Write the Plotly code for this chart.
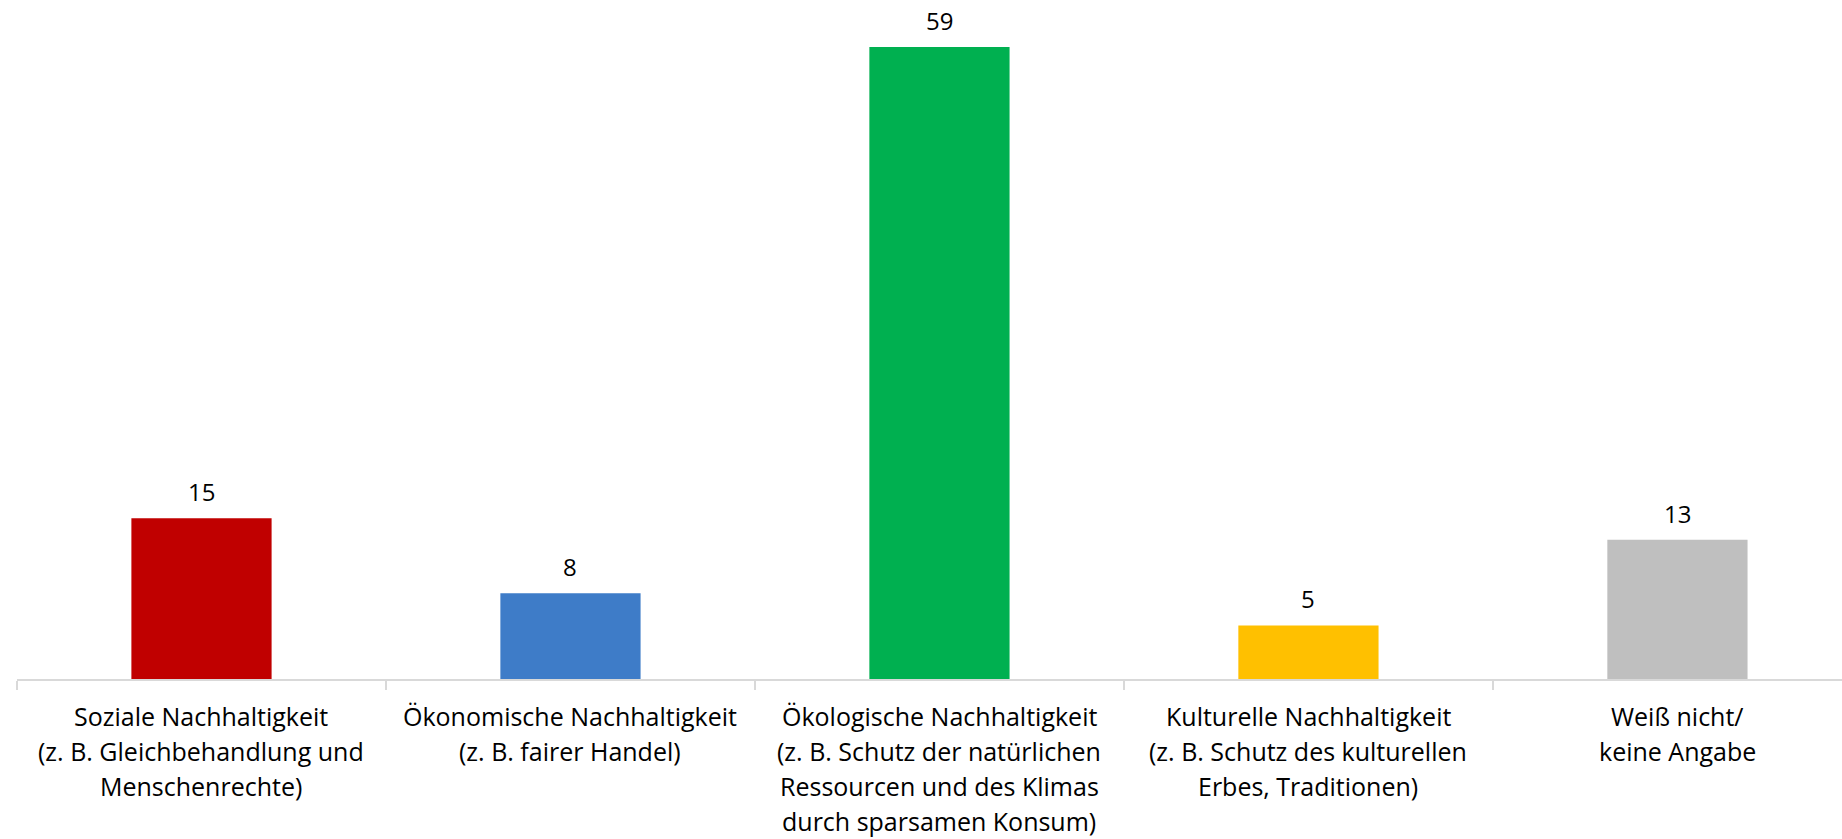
import plotly.graph_objects as go

# Kategorien und Werte
kategorien = [
    "Soziale Nachhaltigkeit<br>(z. B. Gleichbehandlung und<br>Menschenrechte)",
    "Ökonomische Nachhaltigkeit<br>(z. B. fairer Handel)",
    "Ökologische Nachhaltigkeit<br>(z. B. Schutz der natürlichen<br>Ressourcen und des Klimas<br>durch sparsamen Konsum)",
    "Kulturelle Nachhaltigkeit<br>(z. B. Schutz des kulturellen<br>Erbes, Traditionen)",
    "Weiß nicht/<br>keine Angabe",
]
werte = [15, 8, 59, 5, 13]
farben = ["#C00000", "#3E7CC8", "#00B050", "#FFC000", "#BFBFBF"]

fig = go.Figure(go.Bar(
    x=kategorien,
    y=werte,
    marker=dict(color=farben, line=dict(width=0)),
    hoverinfo="skip",
))

# Datenbeschriftungen ueber den Balken
for k, w in zip(kategorien, werte):
    fig.add_annotation(
        x=k, y=w, text=str(w), showarrow=False,
        yanchor="bottom", yshift=8,
        font=dict(family="Open Sans", size=24, color="#000000"),
    )

# Achsenbeschriftungen zeilenweise (groesserer Zeilenabstand als Plotly-Standard)
zeilenabstand = 35
for k in kategorien:
    for i, zeile in enumerate(k.split("<br>")):
        fig.add_annotation(
            x=k, y=0, text=zeile, showarrow=False,
            yanchor="top", xanchor="center",
            yshift=-(18 + i * zeilenabstand),
            font=dict(family="Open Sans", size=25, color="#000000"),
        )

fig.update_layout(
    width=1842, height=839,
    margin=dict(l=17, r=0, t=0, b=160, autoexpand=False),
    paper_bgcolor="white", plot_bgcolor="white",
    bargap=0.62,
    showlegend=False,
    font=dict(family="Open Sans", size=25, color="#000000"),
    xaxis=dict(
        range=[-0.5, 4.446],
        showline=True, linecolor="#D9D9D9", linewidth=2,
        ticks="outside", tickson="boundaries", ticklen=9,
        tickcolor="#D9D9D9", tickwidth=2,
        showgrid=False, fixedrange=True, automargin=False,
        showticklabels=False,
    ),
    yaxis=dict(
        range=[0, 63.4], visible=False, showgrid=False,
        zeroline=False, fixedrange=True,
    ),
)

# Seitenrand entfernen, damit die Grafik bei (0, 0) beginnt
fig.write_html(
    "out.html",
    config={"displayModeBar": False},
    post_script="document.body.style.margin='0';",
)
